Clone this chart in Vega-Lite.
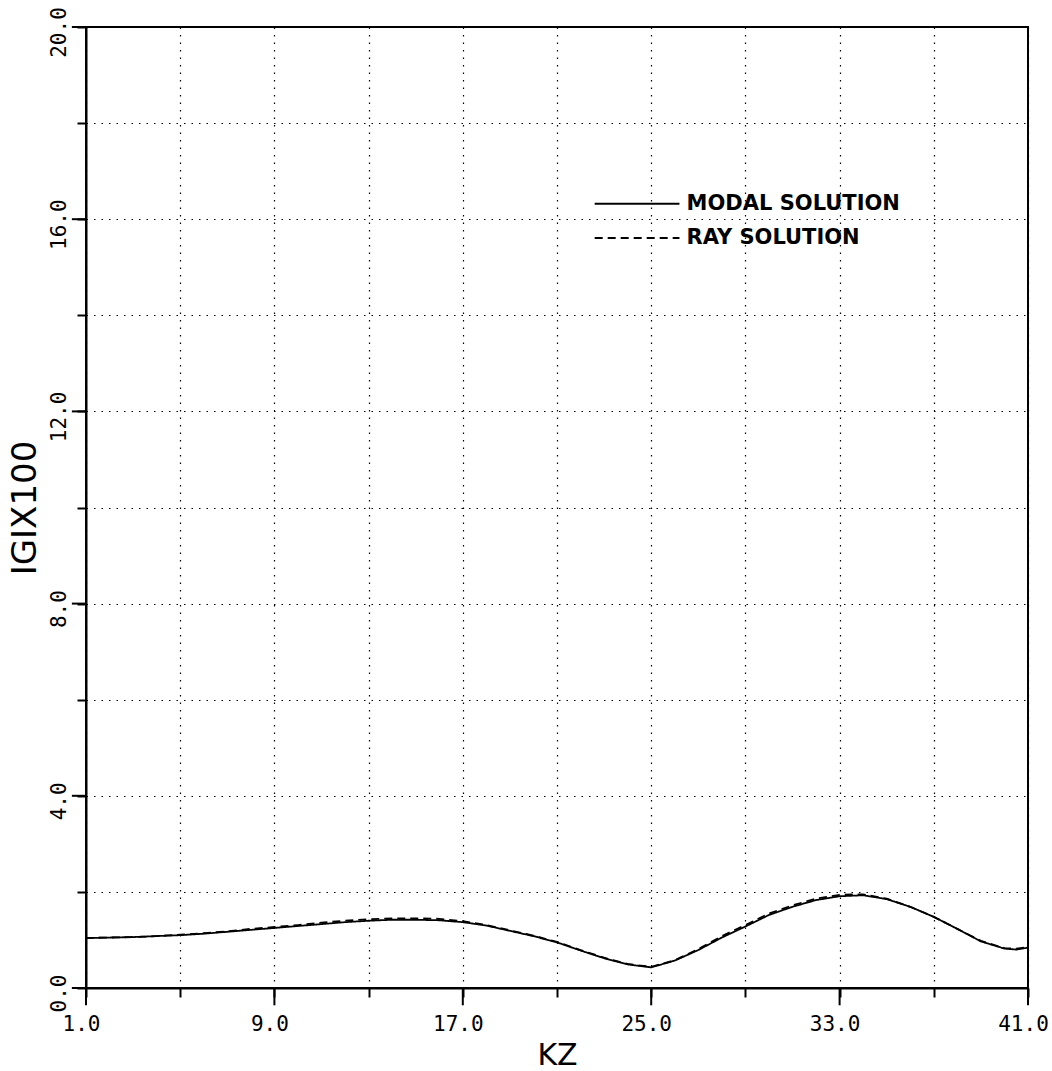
{
  "$schema": "https://vega.github.io/schema/vega-lite/v6.json",
  "width": 942,
  "height": 961,
  "autosize": {"type": "none"},
  "padding": {"left": 86, "top": 27, "right": 24, "bottom": 83},
  "background": "white",
  "config": {
    "view": {"stroke": "black", "strokeWidth": 2},
    "axis": {
      "grid": true,
      "gridDash": [1.5, 6],
      "gridColor": "black",
      "gridOpacity": 1,
      "gridWidth": 1.2,
      "domainColor": "black",
      "domainWidth": 2,
      "tickColor": "black",
      "tickWidth": 2,
      "tickSize": 9,
      "labelFont": "DejaVu Sans Mono",
      "labelFontSize": 21,
      "labelColor": "black",
      "labelFlush": false,
      "labelOverlap": false,
      "titleFont": "DejaVu Sans",
      "titleFontWeight": "normal",
      "titleColor": "black"
    }
  },
  "datasets": {
    "curves": [
      {"kz": 1, "g": 1.04, "series": "Modal"},
      {"kz": 2, "g": 1.05, "series": "Modal"},
      {"kz": 3, "g": 1.06, "series": "Modal"},
      {"kz": 4, "g": 1.08, "series": "Modal"},
      {"kz": 5, "g": 1.10, "series": "Modal"},
      {"kz": 6, "g": 1.13, "series": "Modal"},
      {"kz": 7, "g": 1.17, "series": "Modal"},
      {"kz": 8, "g": 1.21, "series": "Modal"},
      {"kz": 9, "g": 1.25, "series": "Modal"},
      {"kz": 10, "g": 1.29, "series": "Modal"},
      {"kz": 11, "g": 1.33, "series": "Modal"},
      {"kz": 12, "g": 1.37, "series": "Modal"},
      {"kz": 13, "g": 1.40, "series": "Modal"},
      {"kz": 14, "g": 1.42, "series": "Modal"},
      {"kz": 15, "g": 1.42, "series": "Modal"},
      {"kz": 16, "g": 1.41, "series": "Modal"},
      {"kz": 17, "g": 1.37, "series": "Modal"},
      {"kz": 18, "g": 1.30, "series": "Modal"},
      {"kz": 19, "g": 1.19, "series": "Modal"},
      {"kz": 20, "g": 1.08, "series": "Modal"},
      {"kz": 21, "g": 0.95, "series": "Modal"},
      {"kz": 22, "g": 0.78, "series": "Modal"},
      {"kz": 23, "g": 0.62, "series": "Modal"},
      {"kz": 24, "g": 0.49, "series": "Modal"},
      {"kz": 25, "g": 0.43, "series": "Modal"},
      {"kz": 26, "g": 0.57, "series": "Modal"},
      {"kz": 27, "g": 0.79, "series": "Modal"},
      {"kz": 28, "g": 1.05, "series": "Modal"},
      {"kz": 29, "g": 1.28, "series": "Modal"},
      {"kz": 30, "g": 1.52, "series": "Modal"},
      {"kz": 31, "g": 1.69, "series": "Modal"},
      {"kz": 32, "g": 1.83, "series": "Modal"},
      {"kz": 33, "g": 1.91, "series": "Modal"},
      {"kz": 34, "g": 1.93, "series": "Modal"},
      {"kz": 35, "g": 1.85, "series": "Modal"},
      {"kz": 36, "g": 1.69, "series": "Modal"},
      {"kz": 37, "g": 1.48, "series": "Modal"},
      {"kz": 38, "g": 1.23, "series": "Modal"},
      {"kz": 39, "g": 0.97, "series": "Modal"},
      {"kz": 40, "g": 0.82, "series": "Modal"},
      {"kz": 40.5, "g": 0.80, "series": "Modal"},
      {"kz": 41, "g": 0.84, "series": "Modal"},
      {"kz": 1, "g": 1.04, "series": "Ray"},
      {"kz": 2, "g": 1.05, "series": "Ray"},
      {"kz": 3, "g": 1.06, "series": "Ray"},
      {"kz": 4, "g": 1.08, "series": "Ray"},
      {"kz": 5, "g": 1.11, "series": "Ray"},
      {"kz": 6, "g": 1.14, "series": "Ray"},
      {"kz": 7, "g": 1.18, "series": "Ray"},
      {"kz": 8, "g": 1.23, "series": "Ray"},
      {"kz": 9, "g": 1.27, "series": "Ray"},
      {"kz": 10, "g": 1.31, "series": "Ray"},
      {"kz": 11, "g": 1.36, "series": "Ray"},
      {"kz": 12, "g": 1.40, "series": "Ray"},
      {"kz": 13, "g": 1.43, "series": "Ray"},
      {"kz": 14, "g": 1.45, "series": "Ray"},
      {"kz": 15, "g": 1.45, "series": "Ray"},
      {"kz": 16, "g": 1.44, "series": "Ray"},
      {"kz": 17, "g": 1.39, "series": "Ray"},
      {"kz": 18, "g": 1.31, "series": "Ray"},
      {"kz": 19, "g": 1.20, "series": "Ray"},
      {"kz": 20, "g": 1.09, "series": "Ray"},
      {"kz": 21, "g": 0.96, "series": "Ray"},
      {"kz": 22, "g": 0.79, "series": "Ray"},
      {"kz": 23, "g": 0.63, "series": "Ray"},
      {"kz": 24, "g": 0.50, "series": "Ray"},
      {"kz": 25, "g": 0.44, "series": "Ray"},
      {"kz": 26, "g": 0.58, "series": "Ray"},
      {"kz": 27, "g": 0.81, "series": "Ray"},
      {"kz": 28, "g": 1.08, "series": "Ray"},
      {"kz": 29, "g": 1.31, "series": "Ray"},
      {"kz": 30, "g": 1.55, "series": "Ray"},
      {"kz": 31, "g": 1.72, "series": "Ray"},
      {"kz": 32, "g": 1.86, "series": "Ray"},
      {"kz": 33, "g": 1.94, "series": "Ray"},
      {"kz": 34, "g": 1.95, "series": "Ray"},
      {"kz": 35, "g": 1.86, "series": "Ray"},
      {"kz": 36, "g": 1.69, "series": "Ray"},
      {"kz": 37, "g": 1.48, "series": "Ray"},
      {"kz": 38, "g": 1.23, "series": "Ray"},
      {"kz": 39, "g": 0.98, "series": "Ray"},
      {"kz": 40, "g": 0.83, "series": "Ray"},
      {"kz": 40.5, "g": 0.82, "series": "Ray"},
      {"kz": 41, "g": 0.85, "series": "Ray"}
    ],
    "legend": [
      {"x1": 22.6, "x2": 26.2, "tx": 26.5, "y": 16.32, "label": "MODAL SOLUTION", "series": "Modal"},
      {"x1": 22.6, "x2": 26.2, "tx": 26.5, "y": 15.61, "label": "RAY SOLUTION", "series": "Ray"}
    ],
    "majorX": [{"v": 1}, {"v": 9}, {"v": 17}, {"v": 25}, {"v": 33}, {"v": 41}],
    "majorY": [{"v": 0}, {"v": 4}, {"v": 8}, {"v": 12}, {"v": 16}, {"v": 20}]
  },
  "layer": [
    {
      "data": {"name": "curves"},
      "mark": {"type": "line", "color": "black", "strokeWidth": 1.8},
      "encoding": {
        "x": {
          "field": "kz",
          "type": "quantitative",
          "scale": {"domain": [1, 41], "nice": false, "zero": false},
          "axis": {
            "values": [1, 5, 9, 13, 17, 21, 25, 29, 33, 37, 41],
            "labelExpr": "(datum.value - 1) % 8 == 0 ? format(datum.value, '.1f') : ''",
            "labelPadding": 16,
            "labelOffset": -5,
            "title": "KZ",
            "titleFontSize": 30,
            "titlePadding": 6
          }
        },
        "y": {
          "field": "g",
          "type": "quantitative",
          "scale": {"domain": [0, 20], "nice": false},
          "axis": {
            "values": [0, 2, 4, 6, 8, 10, 12, 14, 16, 18, 20],
            "labelExpr": "datum.value % 4 == 0 ? format(datum.value, '.1f') : ''",
            "labelAngle": 270,
            "labelPadding": 8,
            "labelOffset": 5,
            "title": "IGIX100",
            "titleFontSize": 34,
            "titlePadding": 6
          }
        },
        "strokeDash": {
          "field": "series",
          "type": "nominal",
          "scale": {"domain": ["Modal", "Ray"], "range": [[1, 0], [8, 5]]},
          "legend": null
        }
      }
    },
    {
      "data": {"name": "majorX"},
      "mark": {"type": "rule", "color": "black", "strokeWidth": 2, "clip": false},
      "encoding": {
        "x": {"field": "v", "type": "quantitative"},
        "y": {"datum": 0},
        "y2": {"datum": -0.36}
      }
    },
    {
      "data": {"name": "majorY"},
      "mark": {"type": "rule", "color": "black", "strokeWidth": 2, "clip": false},
      "encoding": {
        "y": {"field": "v", "type": "quantitative"},
        "x": {"datum": 1},
        "x2": {"datum": 0.4}
      }
    },
    {
      "data": {"name": "legend"},
      "mark": {"type": "rule", "color": "black", "strokeWidth": 2},
      "encoding": {
        "x": {"field": "x1", "type": "quantitative"},
        "x2": {"field": "x2"},
        "y": {"field": "y", "type": "quantitative"},
        "strokeDash": {
          "field": "series",
          "type": "nominal",
          "scale": {"domain": ["Modal", "Ray"], "range": [[1, 0], [8, 5]]},
          "legend": null
        }
      }
    },
    {
      "data": {"name": "legend"},
      "mark": {"type": "text", "align": "left", "baseline": "middle", "font": "DejaVu Sans", "fontWeight": "bold", "fontSize": 21, "color": "black"},
      "encoding": {
        "x": {"field": "tx", "type": "quantitative"},
        "y": {"field": "y", "type": "quantitative"},
        "text": {"field": "label"}
      }
    }
  ]
}
